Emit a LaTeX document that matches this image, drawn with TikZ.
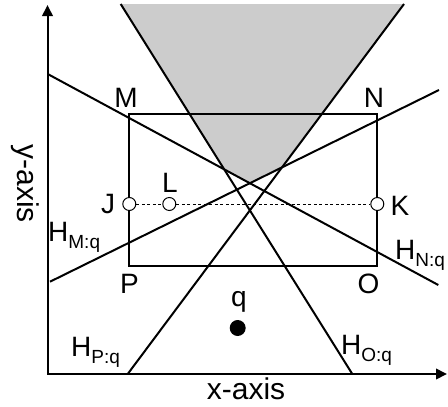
\documentclass[tikz,border=0pt]{standalone}
\usepackage{fontspec}
\setmainfont{Liberation Sans}
\usetikzlibrary{arrows.meta}
\definecolor{wedge}{HTML}{CCCCCC}
\newcommand{\hsub}[1]{H\raisebox{-7pt}{\fontsize{19}{20}\selectfont #1}}

\begin{document}
\begin{tikzpicture}[x=1pt,y=-1pt,
  axis/.style={line width=2pt,{Triangle[length=11pt,width=10.5pt]}-{Triangle[length=11pt,width=10.5pt]}},
  edge/.style={line width=2pt},
  lbl/.style={font=\fontsize{28}{30}\selectfont,inner sep=0pt},
  axlbl/.style={font=\fontsize{30}{32}\selectfont,inner sep=0pt},
  ring/.style={circle,draw,fill=white,line width=1pt,minimum size=13pt,inner sep=0pt},
  dot/.style={circle,fill=black,minimum size=16pt,inner sep=0pt}]
\useasboundingbox (0,0) rectangle (448,407);
% axes
\coordinate (org) at (47.5,374);
\coordinate (ytip) at (47.5,5);
\coordinate (xtip) at (447,374);
% the four half-plane lines
\coordinate (hn1) at (47.7,74);   \coordinate (hn2) at (438.3,285);
\coordinate (hm1) at (50,281.7);  \coordinate (hm2) at (439,90);
\coordinate (ho1) at (120.7,4);   \coordinate (ho2) at (352.3,374);
\coordinate (hp1) at (404,4);     \coordinate (hp2) at (127.7,374);
% rectangle corners
\coordinate (M) at (129.3,114.3); \coordinate (N) at (377.3,114.3);
\coordinate (O) at (377.3,266);   \coordinate (P) at (129.3,266);

\fill[wedge] (ho1) -- (hp1)
  -- (intersection of hp1--hp2 and hm1--hm2)
  -- (intersection of hm1--hm2 and hn1--hn2)
  -- (intersection of hn1--hn2 and ho1--ho2) -- cycle;

\draw[axis] (ytip) -- (org) -- (xtip);
\draw[edge] (hn1) -- (hn2);
\draw[edge] (hm1) -- (hm2);
\draw[edge] (ho1) -- (ho2);
\draw[edge] (hp1) -- (hp2);
\draw[edge] (M) -- (N) -- (O) -- (P) -- cycle;

\node[ring] (J) at (129.3,204) {};
\node[ring] (L) at (169.3,204) {};
\node[ring] (K) at (377.3,204) {};
\draw[line width=1pt,dash pattern=on 3pt off 2.5pt] (J) -- (L) -- (K);
\node[dot] (q) at (237.7,328) {};

% labels
\node[lbl,anchor=base] (lM) at (126,107) {M};
\node[lbl,anchor=base] (lN) at (374,107) {N};
\node[lbl,anchor=base] (lP) at (129.5,293) {P};
\node[lbl,anchor=base] (lO) at (368.5,293) {O};
\node[lbl,anchor=base] (lJ) at (108,213) {J};
\node[lbl,anchor=base] (lL) at (170,192) {L};
\node[lbl,anchor=base] (lK) at (400,215) {K};
\node[lbl,anchor=base] (lq) at (239,306) {q};
\node[lbl,anchor=base west] (lHM) at (48,241) {\hsub{M:q}};
\node[lbl,anchor=base west] (lHN) at (395,259) {\hsub{N:q}};
\node[lbl,anchor=base west] (lHP) at (71,356) {\hsub{P:q}};
\node[lbl,anchor=base west] (lHO) at (341,354) {\hsub{O:q}};
\node[axlbl,anchor=base] (xl) at (246,399) {x-axis};
\node[axlbl,anchor=base,rotate=-90] (yl) at (17,183.5) {y-axis};
\end{tikzpicture}
\end{document}
